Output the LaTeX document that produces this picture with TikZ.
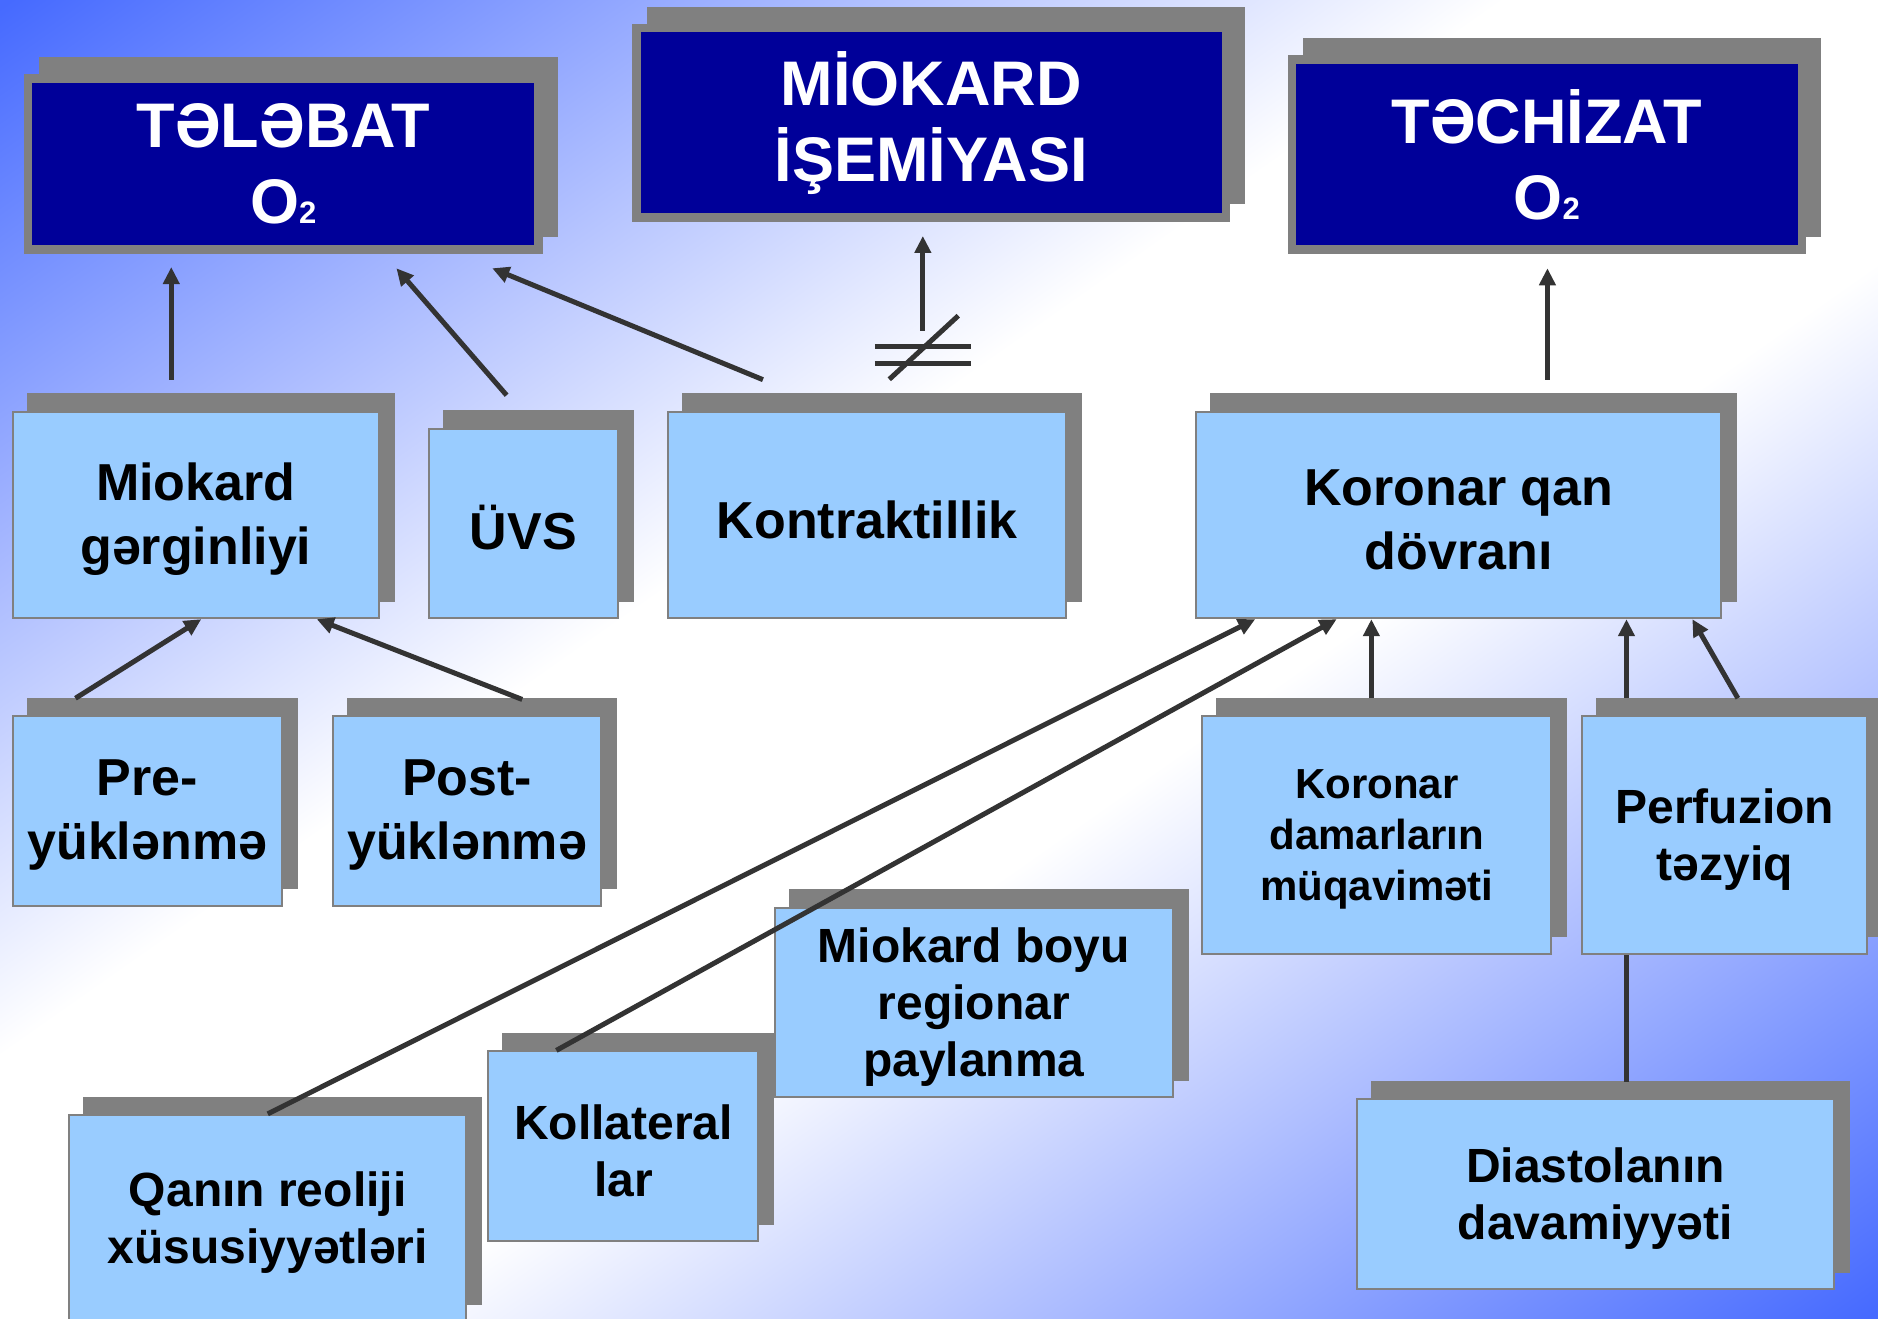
\documentclass[tikz,border=0pt]{standalone}
\usepackage{fontspec}
\setmainfont{Liberation Sans}
\usetikzlibrary{arrows.meta,calc}
\definecolor{navy}{RGB}{0,0,153}
\definecolor{lblue}{RGB}{153,204,255}
\definecolor{shgray}{RGB}{128,128,128}
\definecolor{bgblue}{RGB}{70,106,255}
\definecolor{arrowc}{RGB}{51,51,51}
\pgfdeclareverticalshading{bgshade}{100bp}{color(0bp)=(bgblue); color(14.64bp)=(bgblue);
  color(42.93bp)=(white); color(57.07bp)=(white); color(85.36bp)=(bgblue); color(100bp)=(bgblue)}
\tikzset{
  darkbox/.style={draw=shgray, line width=8.5pt, fill=navy, text=white, align=center,
    inner sep=0pt, font=\fontsize{63}{76}\selectfont\bfseries},
  lightbox/.style={draw=shgray, line width=2pt, fill=lblue, inner sep=0pt},
  lighttext/.style={text=black, align=center, inner sep=0pt,
    font=\fontsize{52}{64}\selectfont\bfseries},
  midtext/.style={font=\fontsize{48}{57}\selectfont\bfseries},
  smalltext/.style={font=\fontsize{42}{51}\selectfont\bfseries},
  shadowbox/.style={fill=shgray},
  conn/.style={draw=arrowc, line width=5pt},
  arr/.style={conn, -{Triangle[length=17pt,width=16pt]}},
}
% #1 name, #2 text, #3 x1, #4 y1, #5 x2, #6 y2 (outer edges, reference units)
\newcommand\DarkBox[6]{%
  \fill[shadowbox] ({#3+12.5},{#4-14.5}) rectangle ({#5+12.5},{#6-14.5});
  \node[darkbox, minimum width={(#5-#3)*1.1977pt-8.5pt},
        minimum height={(#6-#4)*1.1977pt-8.5pt}] (#1) at ({(#3+#5)/2},{(#4+#6)/2}) {#2};}
\newcommand\LightBox[7][]{%
  \fill[shadowbox] ({#4+12.5},{#5-14.5}) rectangle ({#6+12.5},{#7-14.5});
  \node[lightbox, minimum width={(#6-#4)*1.1977pt-2pt},
        minimum height={(#7-#5)*1.1977pt-2pt}] (#2) at ({(#4+#6)/2},{(#5+#7)/2}) {};
  \node[lighttext, #1] (#2-text) at ([yshift=-4.5pt]#2.center) {#3};}
\newcommand\subtwo{{\fontsize{31}{31}\selectfont 2}}
\begin{document}
\begin{tikzpicture}[x=1.1977pt,y=-1.1977pt]
\useasboundingbox (0,0) rectangle (1568,1101);
\clip (0,0) rectangle (1568,1101);
\begin{scope}[transform canvas={xscale=1.42416}]
  \shade[shading=bgshade, shading angle=45] (0,0) rectangle (1101,1101);
\end{scope}

% top row
\DarkBox{tel}{TƏLƏBAT\\O\subtwo}{20}{62}{453}{212}
\DarkBox{mio}{MİOKARD\\İŞEMİYASI}{528}{20}{1027}{185}
\DarkBox{tec}{TƏCHİZAT\\O\subtwo}{1075}{46}{1508}{212}

% middle row
\LightBox{mg}{Miokard\\gərginliyi}{10}{343}{317}{517}
\LightBox{uvs}{ÜVS}{357}{357}{517}{517}
\LightBox{kon}{Kontraktillik}{557}{343}{891}{517}
\LightBox{kqd}{Koronar qan\\dövranı}{998}{343}{1438}{517}

% lower rows
\LightBox{pre}{Pre-\\yüklənmə}{10}{597}{236}{757}
\LightBox{post}{Post-\\yüklənmə}{277}{597}{503}{757}
\LightBox[smalltext]{kdm}{Koronar\\damarların\\müqaviməti}{1003}{597}{1296}{797}
\LightBox[midtext]{dia}{Diastolanın\\davamiyyəti}{1132}{917}{1532}{1077}
\draw[arr] ($(dia.north)+(26,-14)$) -- ($(kqd.south)+(140,0)$);
\LightBox[midtext]{per}{Perfuzion\\təzyiq}{1320}{597}{1560}{797}
\LightBox[midtext]{mbr}{Miokard boyu\\regionar\\paylanma}{646}{757}{980}{917}
\LightBox[midtext]{kol}{Kollateral\\lar}{407}{877}{634}{1037}
\LightBox[midtext]{qan}{Qanın reoliji\\xüsusiyyətləri}{57}{930}{390}{1104}

% connectors
\draw[arr] ($(mg.north)+(-20.5,-26)$) -- ($(tel.south)+(-93.5,11)$);
\draw[arr] ($(uvs.north)+(-14,-27)$) -- ($(tel.south)+(94.5,12)$);
\draw[arr] ($(kon.north)+(-87,-26)$) -- ($(tel.south)+(174.5,12)$);
\draw[arr] ($(kon.north)+(46.5,-67)$) -- ($(mio.south)+(-7,12)$);
\draw[arr] ($(kqd.north)+(74,-26)$) -- ($(tec.south)+(0.5,12)$);
\draw[arr] ($(pre.north)+(-60,-14)$) -- ($(mg.south)+(4.5,0)$);
\draw[arr] ($(post.north)+(46,-13)$) -- ($(mg.south)+(101,0)$);
\draw[arr] ($(kdm.north)+(-4.5,-14)$) -- ($(kqd.south)+(-73,0)$);
\draw[arr] ($(per.north)+(11,-14)$) -- ($(kqd.south)+(195,0)$);
\draw[arr] (qan.north) -- ($(kqd.south)+(-170,0)$);
\draw[arr] ($(kol.north)+(-56,0)$) -- ($(kqd.south)+(-102,0)$);

% not-equal sign
\coordinate (ne) at (770.5,296);
\draw[conn] ($(ne)+(-40,-6.3)$) -- ++(80,0);
\draw[conn] ($(ne)+(-40,7.4)$) -- ++(80,0);
\draw[conn] ($(ne)+(-28,20.7)$) -- ($(ne)+(29.6,-32.4)$);
\end{tikzpicture}
\end{document}
